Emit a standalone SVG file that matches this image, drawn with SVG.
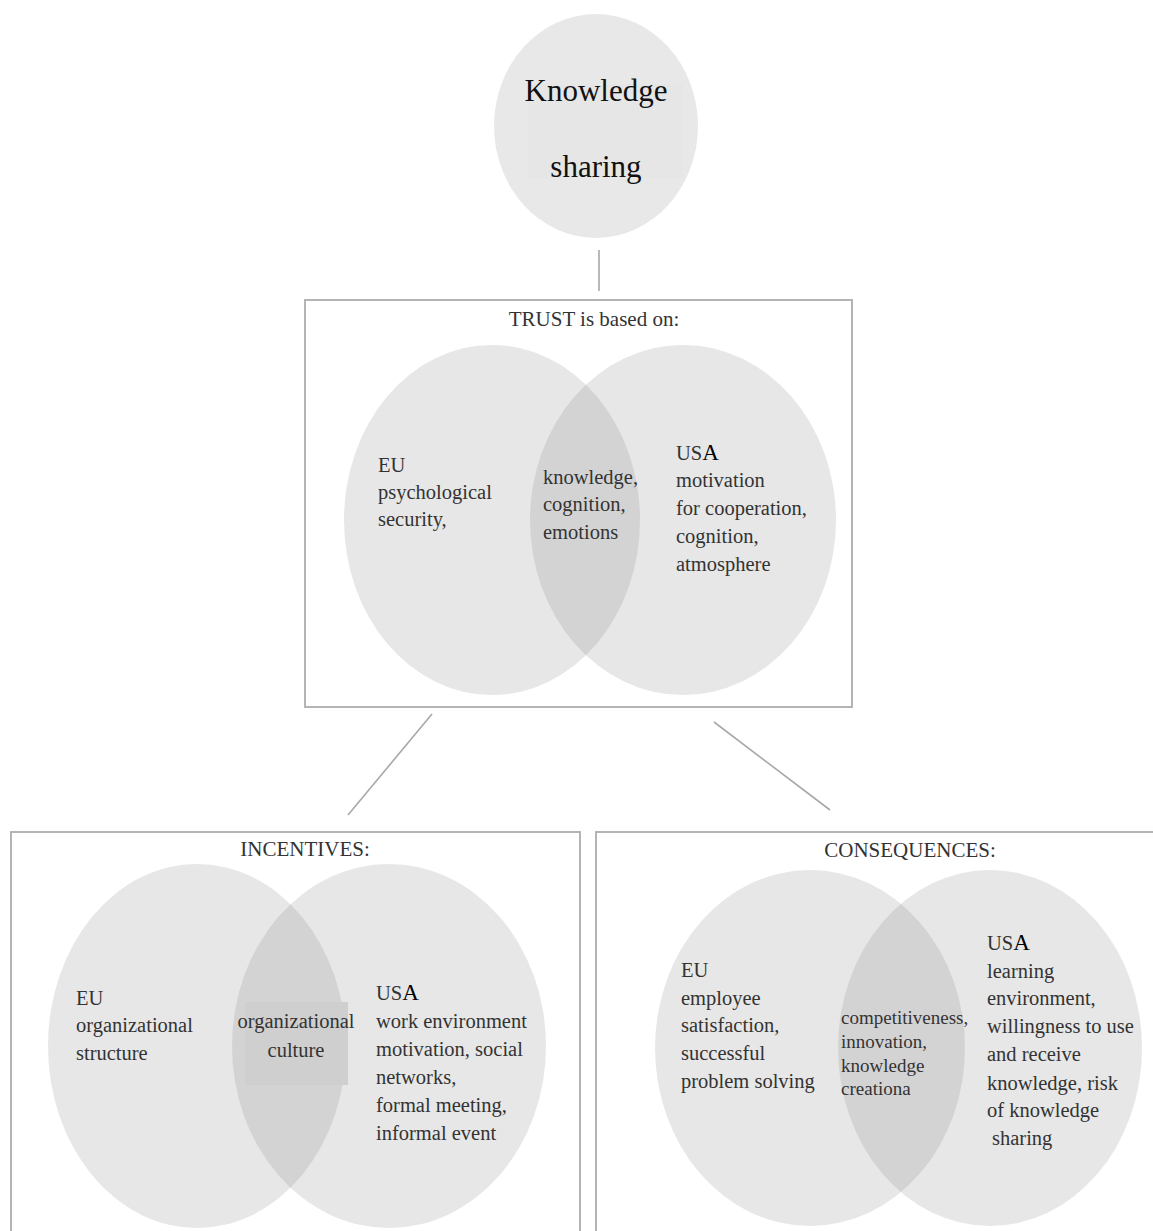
<svg xmlns="http://www.w3.org/2000/svg" width="1153" height="1231" viewBox="0 0 1153 1231">
<style>
.bg{fill:#ffffff}
.frame{fill:none;stroke:#b4b4b4;stroke-width:2}
.venn{fill:#888888;fill-opacity:0.2}
.t{font-family:"Liberation Serif","Times New Roman",serif;font-size:20.5px;fill:#333333}
.s{font-family:"Liberation Serif","Times New Roman",serif;font-size:19px;fill:#333333}
.ttl{font-family:"Liberation Serif","Times New Roman",serif;font-size:21px;fill:#333333}
.big{fill:#000000;font-size:23px}
.conn{stroke:#a8a8a8;stroke-width:1.6;fill:none}
</style>
<rect class="bg" x="0" y="0" width="1153" height="1231"/>

<g id="knowledge-sharing">
<ellipse cx="596" cy="126" rx="102" ry="112" fill="#e8e8e8"/>
<rect x="528" y="84" width="155" height="94" fill="#e6e6e6"/>
<text x="596" y="101" font-family="Liberation Serif,Times New Roman,serif" font-size="31" fill="#111" text-anchor="middle">Knowledge</text>
<text x="596" y="177" font-family="Liberation Serif,Times New Roman,serif" font-size="31" fill="#111" text-anchor="middle">sharing</text>
</g>

<g id="connectors">
<line class="conn" x1="599" y1="250" x2="599" y2="291"/>
<line class="conn" x1="432" y1="714" x2="348" y2="815"/>
<line class="conn" x1="714" y1="722" x2="830" y2="810"/>
</g>

<g id="trust">
<rect class="frame" x="305" y="300" width="547" height="407"/>
<text class="ttl" x="594" y="326" text-anchor="middle">TRUST is based on:</text>
<ellipse class="venn" cx="492" cy="520" rx="148" ry="175"/>
<ellipse class="venn" cx="683" cy="520" rx="153" ry="175"/>
<text class="t" x="378" y="472">EU</text>
<text class="t" x="378" y="499">psychological</text>
<text class="t" x="378" y="526">security,</text>
<text class="t" x="543" y="484">knowledge,</text>
<text class="t" x="543" y="511">cognition,</text>
<text class="t" x="543" y="539">emotions</text>
<text class="t" x="676" y="460">US<tspan class="big">A</tspan></text>
<text class="t" x="676" y="487">motivation</text>
<text class="t" x="676" y="515">for cooperation,</text>
<text class="t" x="676" y="543">cognition,</text>
<text class="t" x="676" y="571">atmosphere</text>
</g>

<g id="incentives">
<rect class="frame" x="11" y="832" width="569" height="410"/>
<text class="ttl" x="305" y="856" text-anchor="middle">INCENTIVES:</text>
<ellipse class="venn" cx="197" cy="1046" rx="149" ry="182"/>
<ellipse class="venn" cx="389" cy="1046" rx="157" ry="182"/>
<rect x="245" y="1002" width="103" height="83" fill="#cfcfcf"/>
<text class="t" x="76" y="1005">EU</text>
<text class="t" x="76" y="1032">organizational</text>
<text class="t" x="76" y="1060">structure</text>
<text class="t" x="296" y="1028" text-anchor="middle" fill="#111">organizational</text>
<text class="t" x="296" y="1057" text-anchor="middle" fill="#111">culture</text>
<text class="t" x="376" y="1000">US<tspan class="big">A</tspan></text>
<text class="t" x="376" y="1028">work environment</text>
<text class="t" x="376" y="1056">motivation, social</text>
<text class="t" x="376" y="1084">networks,</text>
<text class="t" x="376" y="1112">formal meeting,</text>
<text class="t" x="376" y="1140">informal event</text>
</g>

<g id="consequences">
<rect class="frame" x="596" y="832" width="570" height="410"/>
<text class="ttl" x="910" y="857" text-anchor="middle">CONSEQUENCES:</text>
<ellipse class="venn" cx="810" cy="1048" rx="155" ry="178"/>
<ellipse class="venn" cx="990" cy="1048" rx="152" ry="178"/>
<text class="t" x="681" y="977">EU</text>
<text class="t" x="681" y="1005" fill="#000">employee</text>
<text class="t" x="681" y="1032">satisfaction,</text>
<text class="t" x="681" y="1060">successful</text>
<text class="t" x="681" y="1088">problem solving</text>
<text class="s" x="841" y="1024">competitiveness,</text>
<text class="s" x="841" y="1048">innovation,</text>
<text class="s" x="841" y="1072">knowledge</text>
<text class="s" x="841" y="1095">creationa</text>
<text class="t" x="987" y="950">US<tspan class="big">A</tspan></text>
<text class="t" x="987" y="978">learning</text>
<text class="t" x="987" y="1005">environment,</text>
<text class="t" x="987" y="1033">willingness to use</text>
<text class="t" x="987" y="1061">and receive</text>
<text class="t" x="987" y="1090">knowledge, risk</text>
<text class="t" x="987" y="1117">of knowledge</text>
<text class="t" x="992" y="1145">sharing</text>
</g>
</svg>
